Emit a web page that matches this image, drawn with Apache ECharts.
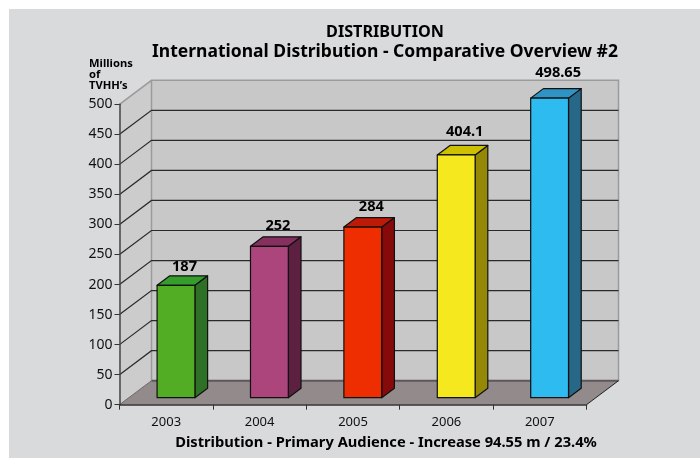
<!DOCTYPE html>
<html><head><meta charset="utf-8">
<style>html,body{margin:0;padding:0;background:#fff}#c{width:700px;height:458px}</style>
<script src="https://cdn.jsdelivr.net/npm/echarts@6/dist/echarts.min.js"></script>
</head><body><div id="c"></div>
<script>
const years = ['2003','2004','2005','2006','2007'];
const audience = [187,252,284,404.1,498.65];
const audienceLabels = ['187','252','284','404.1','498.65'];
const valueTicks = [50,100,150,200,250,300,350,400,450];
const frontColors = ['#52ad25','#ab457c','#ee2d00','#f5e81e','#2dbbf0'];
const sideColors = ['#2e7126','#5e2040','#870a0b','#968807','#276787'];
const topColors = ['#349d2c','#86305f','#be1a08','#cdc000','#2f94c4'];
const mainTitle = 'DISTRIBUTION';
const subTitle = 'International Distribution - Comparative Overview #2';
const unitLabel = "Millions\nof\nTVHH\u2019s";
const footer = 'Distribution - Primary Audience - Increase 94.55 m / 23.4%';

const FONT = '"Noto Sans", "Open Sans", sans-serif';
const DX = 32, DY = 24;          // depth of the chart box
const BDX = 12.7, BDY = 9.5;     // depth of a bar
const BSX = 9.8, BSY = 7;        // bar offset from the front edge
const BAR = 0.405;               // bar width as share of band

const chart = echarts.init(document.getElementById('c'), null, {renderer:'canvas'});
chart.setOption({
  animation:false,
  backgroundColor:'#fff',
  graphic:[{type:'rect',z:-10,silent:true,shape:{x:9,y:9,width:691,height:449},style:{fill:'#d9dadc'}}],
  title:[
    {text:mainTitle,left:385,top:22,padding:0,textAlign:'center',textStyle:{fontFamily:FONT,fontSize:16.2,fontWeight:'bold',color:'#000',lineHeight:20}},
    {text:subTitle,left:385,top:42,padding:0,textAlign:'center',textStyle:{fontFamily:FONT,fontSize:17.5,fontWeight:'bold',color:'#000',lineHeight:20}},
    {text:unitLabel,left:89,top:58,padding:0,textStyle:{fontFamily:FONT,fontSize:11.2,fontWeight:'bold',color:'#000',lineHeight:11}},
    {text:footer,left:386,top:434,padding:0,textAlign:'center',textStyle:{fontFamily:FONT,fontSize:14.7,fontWeight:'bold',color:'#000',lineHeight:18}}
  ],
  grid:{left:119.5,right:113.5,top:104.3,bottom:53.3,containLabel:false},
  xAxis:{type:'category',data:years,z:6,
    axisLine:{show:true,lineStyle:{color:'#333',width:1.5}},
    axisTick:{show:true,alignWithLabel:false,length:5,lineStyle:{color:'#333',width:1}},
    axisLabel:{fontFamily:FONT,fontSize:13,color:'#111',margin:11},
    splitLine:{show:false}},
  yAxis:{type:'value',min:0,max:500,interval:50,z:6,
    axisLine:{show:true,lineStyle:{color:'#444',width:1.5}},
    axisTick:{show:true,length:5,lineStyle:{color:'#333',width:1}},
    axisLabel:{fontFamily:FONT,fontSize:14,color:'#111',margin:7},
    splitLine:{show:false}},
  series:[
    {type:'custom',z:1,silent:true,clip:false,data:[0],
     renderItem(params){
       const c=params.coordSys, l=c.x, r=c.x+c.width, t=c.y, b=c.y+c.height;
       const edge={stroke:'#9b9b9b',lineWidth:1.5};
       return {type:'group',children:[
         {type:'polygon',shape:{points:[[l,t],[l+DX,t-DY],[l+DX,b-DY],[l,b]]},style:{fill:'#cccccc',stroke:null}},
         {type:'rect',shape:{x:l+DX,y:t-DY,width:c.width,height:c.height},style:{fill:'#c8c8c8'}},
         {type:'polygon',shape:{points:[[l,b],[l+DX,b-DY],[r+DX,b-DY],[r,b]]},style:{fill:'#928a8b'}},
         {type:'polyline',shape:{points:[[l,t],[l+DX,t-DY],[r+DX,t-DY],[r+DX,b-DY]]},style:{fill:null,...edge}},
         {type:'line',shape:{x1:l+DX,y1:t-DY,x2:l+DX,y2:b-DY},style:edge},
         {type:'line',shape:{x1:l+DX,y1:b-DY,x2:r+DX,y2:b-DY},style:{stroke:'#5c5758',lineWidth:2}},
         {type:'line',shape:{x1:l,y1:b,x2:l+DX,y2:b-DY},style:{stroke:'#6d6868',lineWidth:1}},
         {type:'line',shape:{x1:r,y1:b,x2:r+DX,y2:b-DY},style:{stroke:'#222',lineWidth:1}}
       ]};
     }},
    {type:'custom',z:2,silent:true,clip:false,data:valueTicks.map(v=>[0,v]),
     encode:{x:0,y:1},
     renderItem(params,api){
       const c=params.coordSys, y=api.coord([0,api.value(1)])[1], l=c.x, r=c.x+c.width;
       return {type:'polyline',shape:{points:[[l,y],[l+DX,y-DY],[r+DX,y-DY]]},style:{fill:null,stroke:'#2a2a2a',lineWidth:1.2}};
     }},
    {type:'custom',z:5,clip:false,data:audience.map((v,i)=>[i,v]),
     encode:{x:0,y:1},
     renderItem(params,api){
       const i=api.value(0), v=api.value(1);
       const top=api.coord([i,v]), base=api.coord([i,0]), w=api.size([1,0])[0]*BAR;
       const x0=top[0]+BSX-w/2, x1=x0+w, yT=top[1]-BSY, yB=base[1]-BSY;
       const line={stroke:'#111',lineWidth:1.2,lineJoin:'round'};
       return {type:'group',children:[
         {type:'polygon',shape:{points:[[x1,yT],[x1+BDX,yT-BDY],[x1+BDX,yB-BDY],[x1,yB]]},style:{fill:sideColors[i],...line}},
         {type:'polygon',shape:{points:[[x0,yT],[x0+BDX,yT-BDY],[x1+BDX,yT-BDY],[x1,yT]]},style:{fill:topColors[i],...line}},
         {type:'rect',shape:{x:x0,y:yT,width:w,height:yB-yT},style:{fill:frontColors[i],...line}},
         {type:'text',style:{text:audienceLabels[i],x:top[0]+BSX+8.5,y:yT-(15+v*0.02),align:'center',verticalAlign:'middle',fontFamily:FONT,fontSize:14.6,fontWeight:'bold',fill:'#000'}}
       ]};
     }}
  ]
});
</script></body></html>
